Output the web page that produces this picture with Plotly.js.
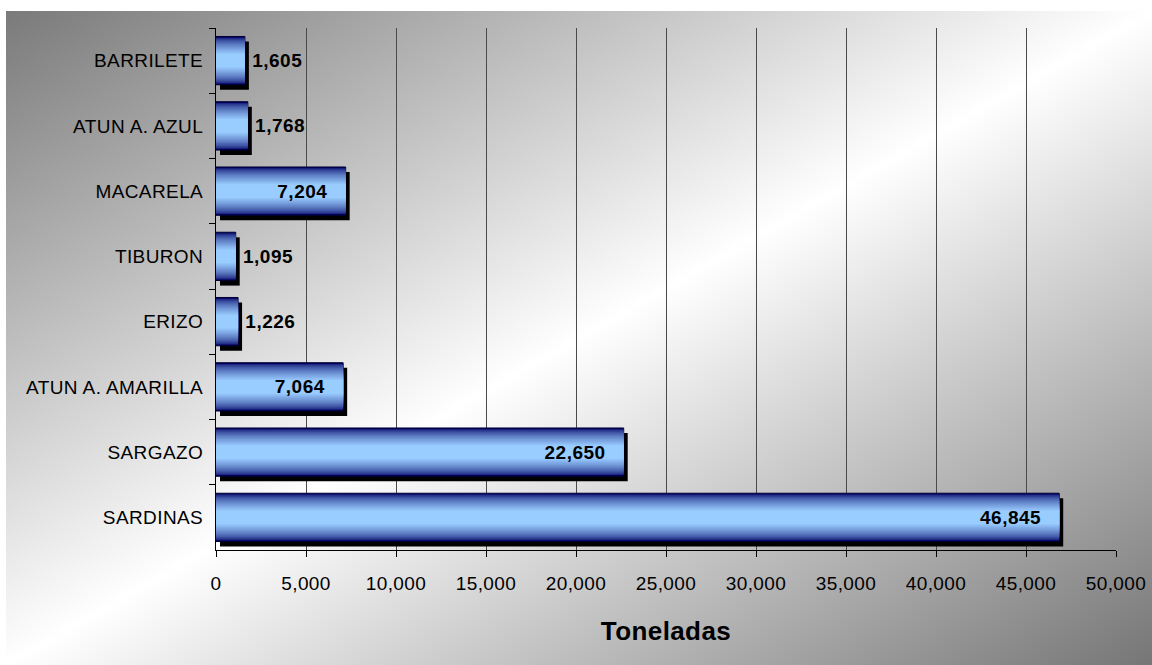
<!DOCTYPE html>
<html>
<head>
<meta charset="utf-8">
<script src="https://cdn.plot.ly/plotly-3.0.1.min.js"></script>
<style>
  html, body { margin: 0; padding: 0; background: #ffffff; }
  #wrap { position: relative; width: 1152px; height: 665px; overflow: hidden; }
  #bg { position: absolute; left: 6px; top: 11px; width: 1146px; height: 654px;
        background: linear-gradient(to bottom right, #7a7a7a 0%, #ffffff 50%, #767676 100%); }
  #chart { position: absolute; left: 0; top: 0; width: 1152px; height: 665px; }
  #chart .xtick text, #chart .ytick text { letter-spacing: 0.4px; }
  #chart .bartext text, #chart text.bartext { letter-spacing: 0.5px; }
  #chart .xtitle { letter-spacing: 0.4px; }
</style>
</head>
<body>
<div id="wrap"><div id="bg"></div><div id="chart"></div></div>
<script>
// ---- data ----
const categories = ['BARRILETE', 'ATUN A. AZUL', 'MACARELA', 'TIBURON', 'ERIZO', 'ATUN A. AMARILLA', 'SARGAZO', 'SARDINAS'];
const toneladas = [1605, 1768, 7204, 1095, 1226, 7064, 22650, 46845];
const xTickVals = [0, 5000, 10000, 15000, 20000, 25000, 30000, 35000, 40000, 45000, 50000];
const xTitle = 'Toneladas';

// ---- style ----
const FONT = 'Liberation Sans, Arial, sans-serif';
const BAR_W = 0.74;
const SHADOW_DX = 222;     // shadow shift along value axis (style)
const SHADOW_DY = 0.078;   // shadow shift along category axis (style)
const labelPos = ['outside', 'outside', 'inside', 'outside', 'outside', 'inside', 'inside', 'inside'];

const traces = [];
// drop shadow
traces.push({
  type: 'bar', orientation: 'h', y: categories, x: toneladas, base: SHADOW_DX,
  width: BAR_W, offset: -BAR_W / 2 + SHADOW_DY,
  marker: { color: '#000000', line: { width: 0 } }, hoverinfo: 'skip', showlegend: false
});
// gradient layers (navy edges -> light blue centre)
const N = 16;
const edge = [0, 0, 100], centre = [153, 204, 255];
for (let i = 0; i < N; i++) {
  const f = i / (N - 1);
  const t = Math.pow(f, 0.6);
  const c = edge.map((e, k) => Math.round(e + (centre[k] - e) * t));
  const w = BAR_W * (1 - 0.72 * f);
  traces.push({
    type: 'bar', orientation: 'h', y: categories, x: toneladas, width: w,
    marker: { color: `rgb(${c[0]},${c[1]},${c[2]})`,
              line: { width: i === 0 ? 1 : 0, color: '#000033' } },
    hoverinfo: 'skip', showlegend: false
  });
}
// value labels
traces.push({
  type: 'bar', orientation: 'h', y: categories, x: toneladas, width: BAR_W,
  marker: { color: 'rgba(0,0,0,0)', line: { width: 0 } },
  texttemplate: labelPos.map(p => p === 'inside' ? '%{x:,}\u00a0\u00a0\u00a0' : '\u00a0%{x:,}'),
  textposition: labelPos, insidetextanchor: 'end', constraintext: 'none', cliponaxis: false,
  textfont: { family: FONT, size: 19, color: '#000000', weight: 'bold' },
  hoverinfo: 'skip', showlegend: false
});

const layout = {
  width: 1152, height: 665,
  margin: { l: 216, r: 36, t: 28, b: 115 },
  paper_bgcolor: 'rgba(0,0,0,0)', plot_bgcolor: 'rgba(0,0,0,0)',
  barmode: 'overlay', showlegend: false,
  font: { family: FONT, color: '#000000' },
  xaxis: {
    range: [0, 50000], tickvals: xTickVals, tickformat: ',d',
    showgrid: true, gridcolor: '#4a4a4a', gridwidth: 1, zeroline: false,
    showline: true, linecolor: '#000000', linewidth: 1,
    ticks: 'outside', ticklen: 6, tickcolor: '#000000',
    ticklabelstandoff: 10,
    tickfont: { family: FONT, size: 19, color: '#000000' },
    title: { text: xTitle, font: { family: FONT, size: 26, color: '#000000', weight: 'bold' }, standoff: 29 },
    automargin: false, fixedrange: true
  },
  yaxis: {
    type: 'category', autorange: 'reversed',
    showgrid: false, zeroline: false,
    showline: true, linecolor: '#000000', linewidth: 1,
    ticks: 'outside', ticklen: 6, tickcolor: '#000000', tickson: 'boundaries',
    ticklabelstandoff: 8,
    tickfont: { family: FONT, size: 19, color: '#000000' },
    automargin: false, fixedrange: true
  }
};

Plotly.newPlot('chart', traces, layout, { staticPlot: true, displayModeBar: false });
</script>
</body>
</html>
